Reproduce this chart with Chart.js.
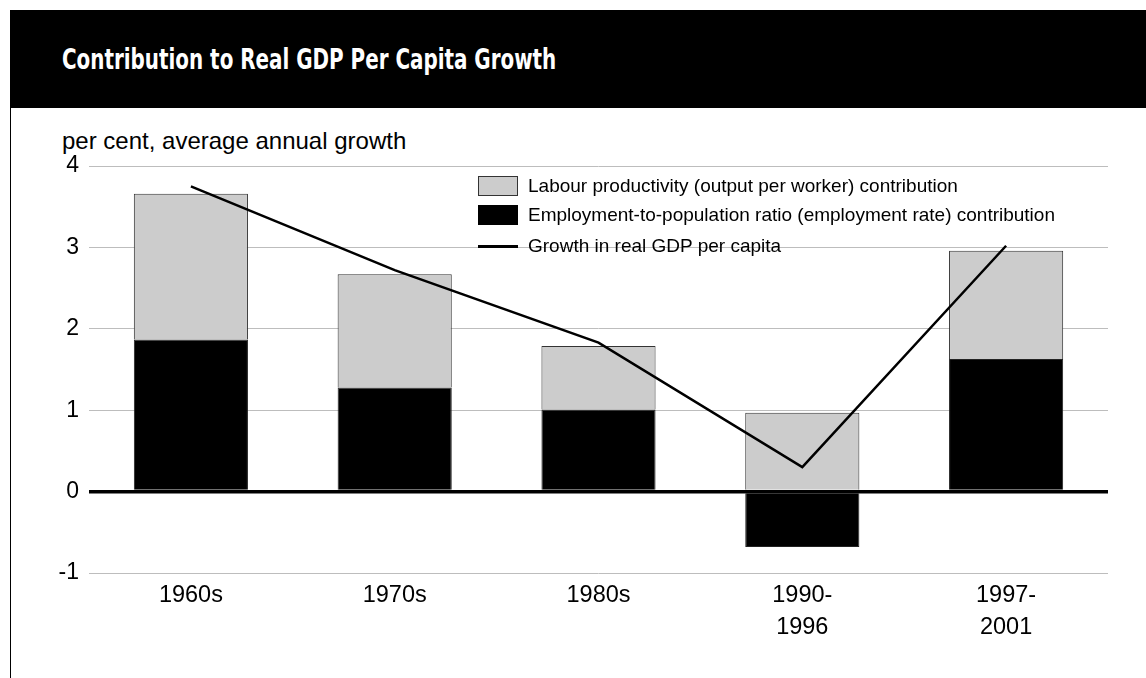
<!DOCTYPE html>
<html>
<head>
<meta charset="utf-8">
<script src="https://cdn.jsdelivr.net/npm/chart.js@4.4.1/dist/chart.umd.min.js"></script>
<style>
  html, body { margin: 0; padding: 0; background: #fff; }
  body { width: 1146px; height: 678px; position: relative; overflow: hidden; font-family: 'Liberation Sans', Arial, sans-serif; }
  #header { position: absolute; left: 10px; top: 10px; right: 0; height: 98px; background: #000; }
  #header h1 { position: absolute; left: 52px; top: 35px; margin: 0; color: #fff; font-family: 'DejaVu Sans Condensed', 'DejaVu Sans', sans-serif; font-stretch: condensed; font-weight: bold; font-size: 28px; line-height: 30px; white-space: nowrap; transform: scaleX(0.79); transform-origin: left center; }
  #frame { position: absolute; left: 10px; top: 108px; width: 1px; height: 570px; background: #000; }
  #unit { position: absolute; left: 62px; top: 127px; font-size: 24px; line-height: 28px; color: #000; }
  #chart-box { position: absolute; left: 0; top: 0; width: 1146px; height: 678px; }
  .legend { position: absolute; left: 478px; font-size: 19px; line-height: 22px; color: #000; }
  .legend span.sw { position: absolute; left: 0; width: 40px; height: 20px; box-sizing: border-box; }
  .legend span.txt { position: absolute; left: 50px; white-space: nowrap; }
</style>
</head>
<body>
<div id="header"><h1>Contribution to Real GDP Per Capita Growth</h1></div>
<div id="frame"></div>
<div id="unit">per cent, average annual growth</div>
<div id="chart-box"><canvas id="chart"></canvas></div>
<div class="legend" style="top:176px"><span class="sw" style="top:0;background:#ccc;border:1px solid #333"></span><span class="txt" style="top:-1px">Labour productivity (output per worker) contribution</span></div>
<div class="legend" style="top:205px"><span class="sw" style="top:0;background:#000"></span><span class="txt" style="top:-1px">Employment-to-population ratio (employment rate) contribution</span></div>
<div class="legend" style="top:235px"><span class="sw" style="top:10px;height:2.5px;background:#000"></span><span class="txt" style="top:0">Growth in real GDP per capita</span></div>
<script>
// values (per cent, average annual growth)
const periods = [['1960s'], ['1970s'], ['1980s'], ['1990-', '1996'], ['1997-', '2001']];
const employmentContribution = [1.87, 1.28, 1.01, -0.68, 1.63];
const productivityContribution = [1.79, 1.39, 0.78, 0.97, 1.33];
const gdpPerCapitaGrowth = [3.75, 2.72, 1.83, 0.30, 3.02];
const yTicks = [-1, 0, 1, 2, 3, 4];

const ctx = document.getElementById('chart').getContext('2d');

new Chart(ctx, {
  type: 'bar',
  data: {
    labels: periods,
    datasets: [
      {
        type: 'line',
        label: 'Growth in real GDP per capita',
        data: gdpPerCapitaGrowth,
        borderColor: '#000',
        borderWidth: 2.5,
        pointRadius: 0,
        tension: 0,
        fill: false,
        stack: 'growth',
        order: 0,
      },
      {
        label: 'Employment-to-population ratio (employment rate) contribution',
        data: employmentContribution,
        backgroundColor: '#000',
        borderColor: '#222',
        borderWidth: 1,
        stack: 'gdp',
        order: 1,
      },
      {
        label: 'Labour productivity (output per worker) contribution',
        data: productivityContribution,
        backgroundColor: '#cccccc',
        borderColor: '#333',
        borderWidth: 1,
        stack: 'gdp',
        order: 2,
      },
    ],
  },
  options: {
    responsive: true,
    maintainAspectRatio: false,
    animation: false,
    layout: { padding: { left: 0, right: 38, top: 166, bottom: 0 } },
    datasets: {
      bar: { barPercentage: 0.56, categoryPercentage: 1 },
    },
    plugins: {
      legend: { display: false },
      title: { display: false },
      tooltip: { enabled: false },
    },
    scales: {
      x: {
        stacked: true,
        grid: { display: false, drawTicks: false },
        border: { display: false },
        ticks: {
          color: '#000',
          padding: 7,
          maxRotation: 0,
          font: { family: 'Liberation Sans', size: 23.5, lineHeight: 1.35 },
        },
        afterFit: (scale) => { scale.height = 105; },
      },
      y: {
        stacked: true,
        min: -1,
        max: 4,
        afterBuildTicks: (scale) => { scale.ticks = yTicks.map((v) => ({ value: v })); },
        grid: {
          drawTicks: false,
          color: (c) => (c.tick && c.tick.value === 0 ? '#000' : '#bdbdbd'),
          lineWidth: (c) => (c.tick && c.tick.value === 0 ? 3.5 : 1),
        },
        border: { display: false },
        ticks: {
          color: '#000',
          padding: 10,
          font: { family: 'Liberation Sans', size: 23 },
        },
        afterFit: (scale) => { scale.width = 89; },
      },
    },
  },
});
</script>
</body>
</html>
